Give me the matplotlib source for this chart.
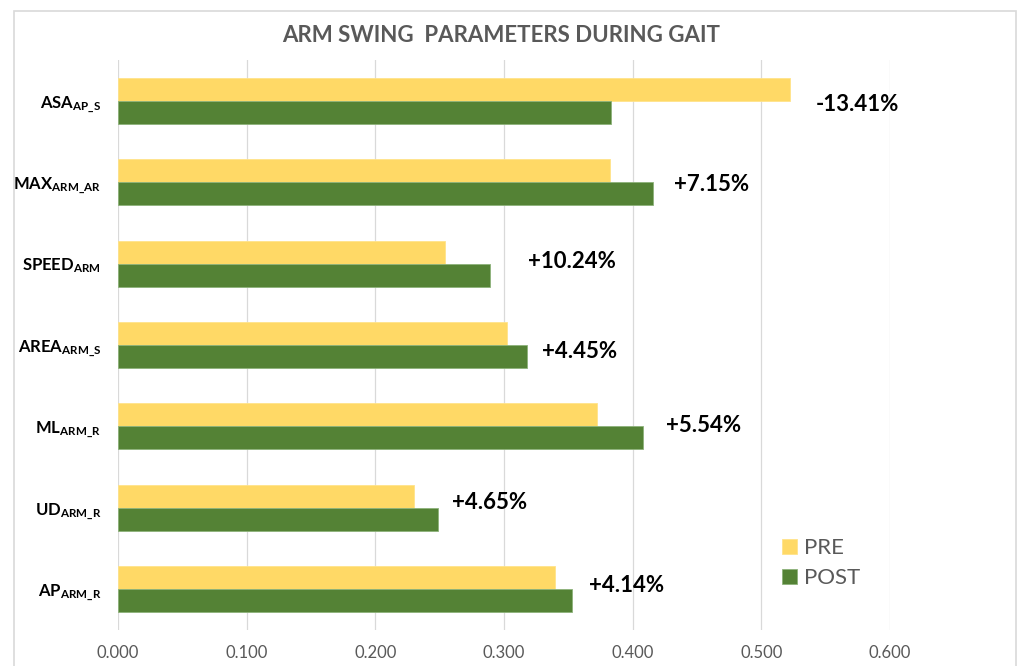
import matplotlib
matplotlib.use("Agg")
import matplotlib.pyplot as plt
import numpy as np
from matplotlib.patches import Rectangle

plt.rcParams['font.family'] = ['Lato', 'DejaVu Sans']
plt.rcParams['mathtext.fontset'] = 'custom'
plt.rcParams['mathtext.rm'] = 'Lato'
plt.rcParams['mathtext.bf'] = 'Lato:bold'
plt.rcParams['mathtext.it'] = 'Lato:italic'

# ---- data ----
categories = [r'$\mathbf{ASA}_{\mathbf{AP\_S}}$',
              r'$\mathbf{MAX}_{\mathbf{ARM\_AR}}$',
              r'$\mathbf{SPEED}_{\mathbf{ARM}}$',
              r'$\mathbf{AREA}_{\mathbf{ARM\_S}}$',
              r'$\mathbf{ML}_{\mathbf{ARM\_R}}$',
              r'$\mathbf{UD}_{\mathbf{ARM\_R}}$',
              r'$\mathbf{AP}_{\mathbf{ARM\_R}}$']
pre_values = [0.522, 0.382, 0.254, 0.302, 0.372, 0.230, 0.340]
post_values = [0.383, 0.416, 0.289, 0.318, 0.408, 0.249, 0.353]
change_labels = ["-13.41%", "+7.15%", "+10.24%", "+4.45%", "+5.54%", "+4.65%", "+4.14%"]
x_ticks = [0.0, 0.1, 0.2, 0.3, 0.4, 0.5, 0.6]
x_tick_labels = ["0.000", "0.100", "0.200", "0.300", "0.400", "0.500", "0.600"]

# ---- layout (pixel offsets of the change labels) ----
label_dx_px = [26, 21, 38, 15, 23, 14, 17]
label_dy_px = [4, 2, -2, 6, -1, -5, -4]

W, H = 1017, 666
fig = plt.figure(figsize=(W / 100, H / 100), dpi=100)
fig.patch.set_facecolor('white')

# chart frame
fig.patches.append(Rectangle((14 / W, -0.01), (1016 - 14) / W, (H - 11) / H + 0.01,
                             transform=fig.transFigure, fill=False,
                             edgecolor='#D9D9D9', linewidth=1.2))

ax = fig.add_axes([118 / W, (H - 630) / H, (890 - 118) / W, (630 - 60) / H])

y = np.arange(len(categories))
bh = 0.283
PRE_C = '#FFD966'
POST_C = '#548235'
ax.barh(y - bh / 2, pre_values, height=bh, color=PRE_C, edgecolor='#FFE38A',
        linewidth=0.6, label='PRE', zorder=3)
ax.barh(y + bh / 2, post_values, height=bh, color=POST_C, edgecolor='#8DB27A',
        linewidth=0.6, label='POST', zorder=3)

ax.set_ylim(len(categories) - 0.5, -0.5)
ax.set_xlim(0, 0.6)
ax.set_xticks(x_ticks)
ax.set_xticklabels(x_tick_labels, fontsize=12, color='#595959')
ax.set_yticks(y)
ax.set_yticklabels(categories, fontsize=12, color='black')
ax.tick_params(axis='both', length=0)
ax.tick_params(axis='x', pad=11)
ax.tick_params(axis='y', pad=12)
for s in ax.spines.values():
    s.set_visible(False)
ax.grid(axis='x', color='#D9D9D9', linewidth=0.9, zorder=0)
ax.set_axisbelow(True)

for i, lab in enumerate(change_labels):
    xm = max(pre_values[i], post_values[i])
    ax.annotate(lab, xy=(xm, i), xytext=(label_dx_px[i] * 0.72, -label_dy_px[i] * 0.72),
                textcoords='offset points', ha='left', va='center',
                fontsize=16, fontweight='bold', color='black', annotation_clip=False)

fig.text(501 / W, 1 - 35 / H, "ARM SWING  PARAMETERS DURING GAIT", ha='center', va='center',
         fontsize=16, fontweight='bold', color='#595959')

leg = ax.legend(loc='upper left', bbox_to_anchor=(771 / W, 1 - 527 / H),
                bbox_transform=fig.transFigure, frameon=False, fontsize=16,
                handlelength=0.65, handleheight=0.65, handletextpad=0.35,
                labelspacing=0.45, borderpad=0)
for t in leg.get_texts():
    t.set_color('#595959')

fig.savefig('out.png', dpi=100, facecolor='white')
